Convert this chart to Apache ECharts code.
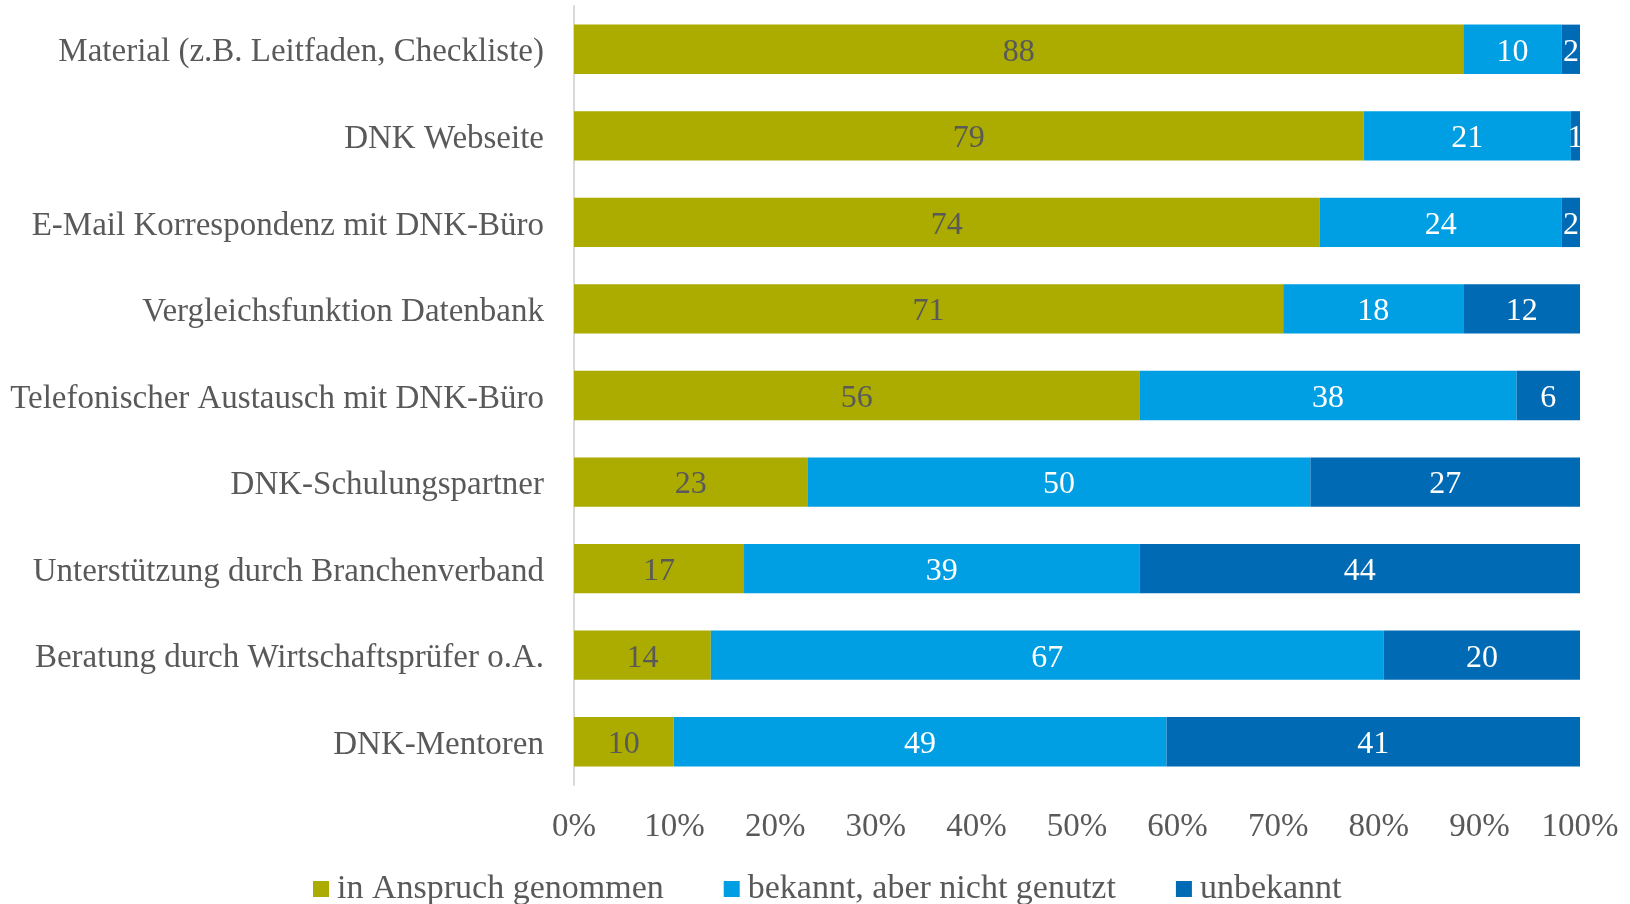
<!DOCTYPE html>
<html>
<head>
<meta charset="utf-8">
<script src="https://cdn.jsdelivr.net/npm/echarts@6/dist/echarts.min.js"></script>
<style>html,body{margin:0;padding:0;background:#fff}#c{width:1630px;height:904px}</style>
</head>
<body>
<div id="c"></div>
<script>
const categories = [
  "Material (z.B. Leitfaden, Checkliste)",
  "DNK Webseite",
  "E-Mail Korrespondenz mit DNK-Büro",
  "Vergleichsfunktion Datenbank",
  "Telefonischer Austausch mit DNK-Büro",
  "DNK-Schulungspartner",
  "Unterstützung durch Branchenverband",
  "Beratung durch Wirtschaftsprüfer o.A.",
  "DNK-Mentoren"
];
const seriesNames = ["in Anspruch genommen", "bekannt, aber nicht genutzt", "unbekannt"];
const genutzt = [88.4, 78.5, 74.1, 70.5, 56.2, 23.2, 16.9, 13.6, 9.9];
const bekannt = [9.8, 20.6, 24.1, 17.9, 37.5, 50.0, 39.3, 66.9, 49.0];
const unbekannt = [1.8, 0.9, 1.8, 11.6, 6.3, 26.8, 43.8, 19.6, 41.1];
const xTicks = [0, 10, 20, 30, 40, 50, 60, 70, 80, 90, 100];

const FONT = "Liberation Serif";
const colors = ["#abab00", "#009fe3", "#006ab4"];
const labelColors = ["#595959", "#ffffff", "#ffffff"];
const dataSets = [genutzt, bekannt, unbekannt];

const chart = echarts.init(document.getElementById('c'), null, {renderer: 'canvas'});
chart.setOption({
  animation: false,
  textStyle: {fontFamily: FONT},
  grid: {left: 574, right: 50, top: 6, bottom: 119, containLabel: false},
  legend: {
    data: seriesNames,
    left: 308, top: 867,
    itemWidth: 16, itemHeight: 16, itemGap: 60,
    icon: 'rect',
    textStyle: {fontFamily: FONT, fontSize: 34, color: '#595959', padding: [4,0,0,3]}
  },
  xAxis: {
    type: 'value', min: xTicks[0], max: xTicks[xTicks.length-1], interval: 10,
    axisLine: {show: false}, axisTick: {show: false}, splitLine: {show: false},
    axisLabel: {formatter: '{value}%', fontFamily: FONT, fontSize: 33, color: '#595959', margin: 26}
  },
  yAxis: {
    type: 'category', data: categories, inverse: true,
    axisLine: {show: true, lineStyle: {color: '#d9d9d9', width: 2}},
    axisTick: {show: false},
    axisLabel: {
      fontFamily: FONT, fontSize: 33, color: '#595959', margin: 30,
      formatter: v => '{a|' + v + '}',
      rich: {a: {fontFamily: FONT, fontSize: 33, color: '#595959', padding: [7,0,0,0]}}
    }
  },
  series: seriesNames.map((n, i) => ({
    name: n, type: 'bar', stack: 'total', barCategoryGap: '43%',
    data: dataSets[i],
    itemStyle: {color: colors[i]},
    label: {
      show: true, position: 'inside', color: labelColors[i],
      fontFamily: FONT, fontSize: 32, offset: [0, 3],
      formatter: p => Math.round(p.value)
    }
  }))
});
</script>
</body>
</html>
